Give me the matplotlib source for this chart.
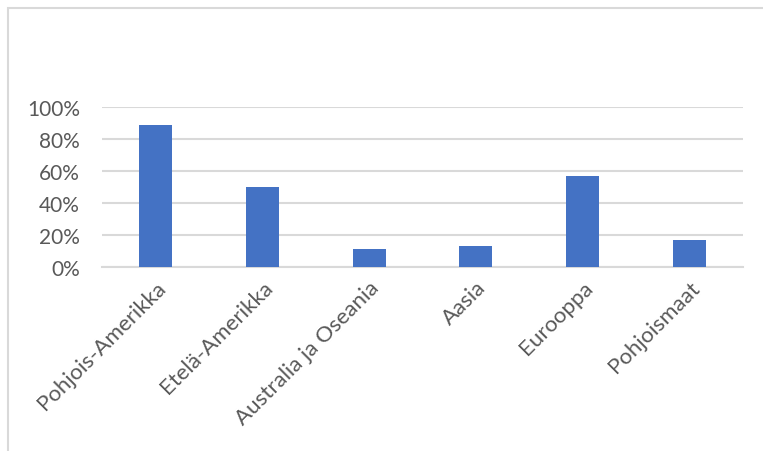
import numpy as np
import matplotlib.pyplot as plt
from matplotlib.patches import Rectangle
from matplotlib.ticker import PercentFormatter

# Data
regions = ['Pohjois-Amerikka', 'Etelä-Amerikka', 'Australia ja Oseania',
           'Aasia', 'Eurooppa', 'Pohjoismaat']
shares = [0.89, 0.50, 0.11, 0.13, 0.57, 0.17]

plt.rcParams['font.family'] = ['Lato', 'DejaVu Sans']

fig = plt.figure(figsize=(7.63, 4.52), dpi=100)
ax = fig.add_axes([102 / 763, 1 - 268 / 452, 641 / 763, 160 / 452])

x = np.arange(len(regions))
ax.bar(x, shares, width=0.31, color='#4472C4', zorder=3)

ax.set_xlim(-0.5, len(regions) - 0.5)
ax.set_ylim(0, 1)
ax.set_yticks(np.arange(0, 1.01, 0.2))
ax.yaxis.set_major_formatter(PercentFormatter(1.0, decimals=0))
ax.grid(axis='y', color='#D9D9D9', linewidth=1.5, zorder=0)

ax.set_xticks(x)
ax.set_xticklabels(regions, rotation=45, ha='right', rotation_mode='anchor')
ax.tick_params(axis='both', length=0, labelcolor='#595959')
ax.tick_params(axis='x', pad=7, labelsize=16)
ax.tick_params(axis='y', pad=16, labelsize=15)

for s in ['top', 'right', 'left']:
    ax.spines[s].set_visible(False)
ax.spines['bottom'].set_color('#D9D9D9')
ax.spines['bottom'].set_linewidth(1.5)

# chart frame (partly cut off at right and bottom in the original)
fig.patches.append(Rectangle((8 / 763, -0.1), 1.2, 1 - 9 / 452 + 0.1,
                             transform=fig.transFigure, fill=False,
                             edgecolor='#D9D9D9', linewidth=1.5))

fig.savefig('out.png', dpi=100)
